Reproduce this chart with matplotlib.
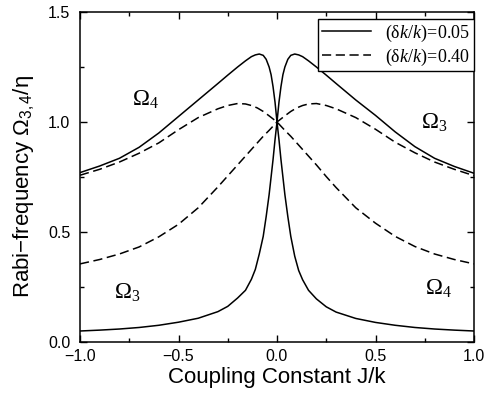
import matplotlib
matplotlib.use("Agg")
import matplotlib.pyplot as plt
from matplotlib.ticker import MultipleLocator

plt.rcParams['font.family'] = ['Liberation Sans', 'DejaVu Sans']
plt.rcParams['mathtext.fontset'] = 'custom'
plt.rcParams['mathtext.rm'] = 'Liberation Serif'
plt.rcParams['mathtext.it'] = 'Liberation Serif:italic'
plt.rcParams['mathtext.sf'] = 'Liberation Sans'

# dk/k = 0.05 (solid), coupling constant J/k
j_solid = [-1.0, -0.9, -0.8, -0.7, -0.6, -0.5, -0.4, -0.3, -0.25, -0.2, -0.16,
           -0.13, -0.11, -0.09, -0.07, -0.055, -0.04, -0.03, -0.02, -0.01, 0.0,
           0.01, 0.02, 0.03, 0.04, 0.055, 0.07, 0.09, 0.11, 0.13, 0.16, 0.2,
           0.25, 0.3, 0.4, 0.5, 0.6, 0.7, 0.8, 0.9, 1.0]
omega4_005 = [0.770, 0.800, 0.835, 0.885, 0.950, 1.025, 1.100, 1.175, 1.213,
              1.250, 1.278, 1.297, 1.305, 1.309, 1.303, 1.285, 1.250, 1.215,
              1.160, 1.090, 1.0,
              0.92, 0.83, 0.75, 0.67, 0.57, 0.48, 0.39, 0.325, 0.283, 0.235,
              0.196, 0.160, 0.136, 0.107, 0.089, 0.076, 0.066, 0.059, 0.054, 0.050]
omega3_005 = [0.050, 0.054, 0.059, 0.066, 0.076, 0.090, 0.108, 0.138, 0.162,
              0.200, 0.235, 0.285, 0.330, 0.400, 0.480, 0.570, 0.670, 0.750,
              0.830, 0.920, 1.0,
              1.09, 1.16, 1.215, 1.25, 1.285, 1.303, 1.309, 1.305, 1.297, 1.278,
              1.25, 1.213, 1.175, 1.10, 1.03, 0.955, 0.888, 0.835, 0.798, 0.767]

# dk/k = 0.40 (dashed)
j_dashed = [-1.0, -0.9, -0.8, -0.7, -0.6, -0.5, -0.4, -0.3, -0.25, -0.2, -0.16,
            -0.13, -0.1, -0.07, -0.04, -0.02, 0.0, 0.02, 0.04, 0.07, 0.1, 0.13,
            0.16, 0.2, 0.25, 0.3, 0.4, 0.5, 0.6, 0.7, 0.8, 0.9, 1.0]
omega4_040 = [0.758, 0.785, 0.818, 0.858, 0.905, 0.965, 1.020, 1.060, 1.075,
              1.084, 1.082, 1.075, 1.064, 1.048, 1.028, 1.014, 1.0,
              0.981, 0.962, 0.935, 0.905, 0.875, 0.845, 0.805, 0.752, 0.702,
              0.610, 0.540, 0.480, 0.434, 0.400, 0.375, 0.355]
omega3_040 = [0.355, 0.375, 0.400, 0.432, 0.478, 0.535, 0.610, 0.705, 0.755,
              0.805, 0.845, 0.875, 0.905, 0.935, 0.962, 0.981, 1.0,
              1.014, 1.028, 1.048, 1.064, 1.075, 1.082, 1.084, 1.075, 1.060,
              1.020, 0.967, 0.908, 0.860, 0.818, 0.785, 0.756]

fig = plt.figure(figsize=(4.91, 3.97), dpi=100)
ax = fig.add_axes([80 / 491, 55 / 397, 394 / 491, 330 / 397])

ax.plot(j_solid, omega4_005, color='black', lw=1.1,
        label=r'$\mathrm{(\delta}\mathit{k/k)\!=\!0.05}$')
ax.plot(j_solid, omega3_005, color='black', lw=1.1)
ax.plot(j_dashed, omega4_040, color='black', lw=1.1, dashes=(6, 3),
        label=r'$\mathrm{(\delta}\mathit{k/k)\!=\!0.40}$')
ax.plot(j_dashed, omega3_040, color='black', lw=1.1, dashes=(6, 3))

ax.set_xlim(-1, 1)
ax.set_ylim(0, 1.5)
ax.xaxis.set_major_locator(MultipleLocator(0.5))
ax.xaxis.set_minor_locator(MultipleLocator(0.25))
ax.yaxis.set_major_locator(MultipleLocator(0.5))
ax.yaxis.set_minor_locator(MultipleLocator(0.25))
ax.xaxis.set_major_formatter(lambda v, p: f'{v:.1f}'.replace('-', '\u2212'))
ax.yaxis.set_major_formatter(lambda v, p: f'{v:.1f}')
ax.tick_params(which='both', direction='in', top=True, right=True, labelsize=11.5, width=1)
ax.tick_params(which='major', length=5)
ax.tick_params(which='minor', length=3)
ax.tick_params(axis='x', pad=5)
ax.tick_params(axis='y', pad=7)
for s in ax.spines.values():
    s.set_linewidth(1.1)

ax.set_xlabel('Coupling Constant J/k', fontsize=16)
ax.set_ylabel('Rabi\u2212frequency \u03a9$_{\\mathsf{3,4}}$/\u03b7', fontsize=16)
ax.xaxis.set_label_coords(0.5, -(367 - 342) / 330)
ax.yaxis.set_label_coords((36 - 80) / 394, 0.47)

lab_kw = dict(fontsize=16.5, ha='center', va='center')
ax.text(-0.67, 1.10, r'$\mathrm{\Omega}_\mathrm{4}$', **lab_kw)
ax.text(0.80, 1.00, r'$\mathrm{\Omega}_\mathrm{3}$', **lab_kw)
ax.text(-0.76, 0.227, r'$\mathrm{\Omega}_\mathrm{3}$', **lab_kw)
ax.text(0.82, 0.245, r'$\mathrm{\Omega}_\mathrm{4}$', **lab_kw)

leg = ax.legend(loc='upper right', bbox_to_anchor=(1.0, 1 - 7 / 330), borderaxespad=0,
                fontsize=13, handlelength=2.7, handletextpad=0.8, fancybox=False,
                framealpha=1, edgecolor='black', borderpad=0.2, labelspacing=0.15)
leg.get_frame().set_linewidth(1.0)

fig.savefig('out.png', dpi=100)
